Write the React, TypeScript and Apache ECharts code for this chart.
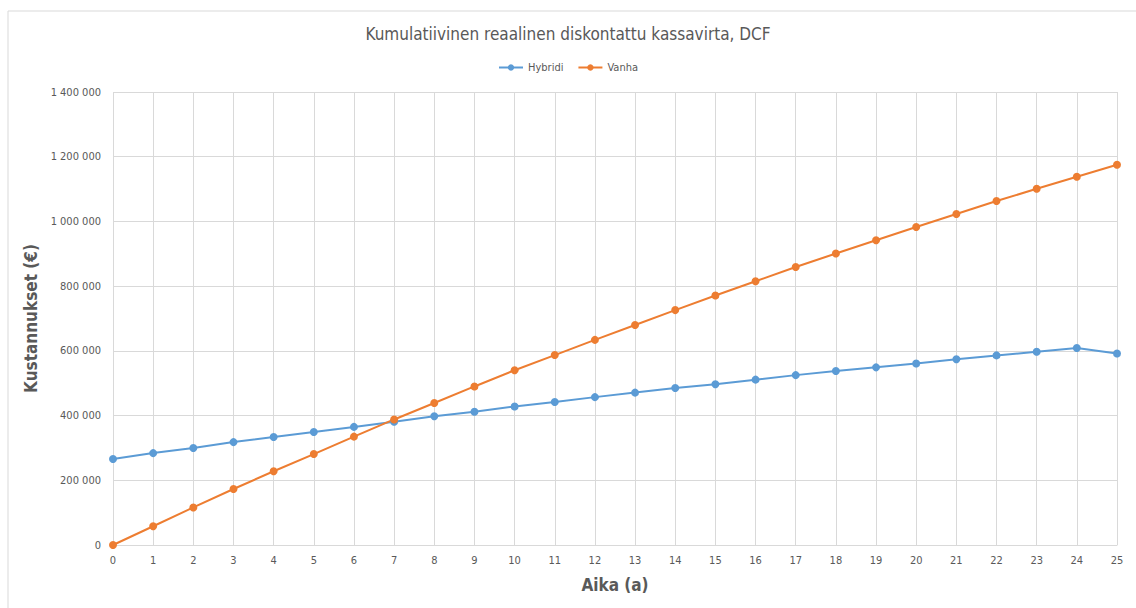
import React, { useEffect, useRef } from "react";
import * as echarts from "echarts";

const years = Array.from({ length: 26 }, (_, i) => String(i));
const hybridi = [
  266000, 284000, 300000, 318000, 334000, 349000, 365000, 381000, 398000, 412000,
  428000, 442000, 457000, 471000, 485000, 497000, 511000, 525000, 538000, 549000,
  561000, 574000, 586000, 597000, 609000, 592000,
];
const vanha = [
  0, 58000, 116000, 173000, 228000, 281000, 335000, 388000, 439000, 490000,
  540000, 587000, 634000, 680000, 726000, 771000, 815000, 859000, 901000, 942000,
  983000, 1023000, 1063000, 1101000, 1138000, 1175000,
];

const FONT = "'Liberation Sans Narrow', 'DejaVu Sans Condensed', 'Open Sans', sans-serif";
const GRAY = "#595959";

const fmt = (v: number) => String(v).replace(/\B(?=(\d{3})+(?!\d))/g, " ");

export default function App() {
  const ref = useRef<HTMLDivElement>(null);
  useEffect(() => {
    if (!ref.current) return;
    const chart = echarts.init(ref.current, undefined, { renderer: "svg" });
    chart.setOption({
      animation: false,
      backgroundColor: "#fff",
      textStyle: { fontFamily: FONT },
      graphic: [
        {
          type: "rect",
          shape: { x: 8, y: 11, width: 1140, height: 620 },
          style: { fill: "none", stroke: "#d9d9d9", lineWidth: 1 },
          silent: true,
        },
      ],
      title: {
        text: "Kumulatiivinen reaalinen diskontattu kassavirta, DCF",
        left: "center",
        top: 20,
        textStyle: { fontFamily: FONT, fontSize: 17, fontWeight: "normal", color: GRAY },
      },
      legend: {
        top: 57,
        left: "center",
        itemWidth: 24,
        itemHeight: 8,
        itemGap: 14,
        textStyle: { fontFamily: FONT, fontSize: 11, color: GRAY },
        data: ["Hybridi", "Vanha"],
      },
      grid: { left: 113, right: 19, top: 92, bottom: 63 },
      xAxis: {
        type: "category",
        data: years,
        boundaryGap: false,
        name: "Aika (a)",
        nameLocation: "middle",
        nameGap: 31,
        nameTextStyle: { fontFamily: FONT, fontSize: 17, fontWeight: "bold", color: GRAY },
        axisLine: { lineStyle: { color: "#d9d9d9", width: 1 } },
        axisTick: { show: false },
        axisLabel: { color: GRAY, fontSize: 11, margin: 10, interval: 0 },
        splitLine: { show: true, lineStyle: { color: "#d9d9d9", width: 1 } },
      },
      yAxis: {
        type: "value",
        min: 0,
        max: 1400000,
        interval: 200000,
        name: "Kustannukset (€)",
        nameLocation: "middle",
        nameGap: 65,
        nameTextStyle: { fontFamily: FONT, fontSize: 17, fontWeight: "bold", color: GRAY },
        axisLine: { show: false },
        axisTick: { show: false },
        axisLabel: { color: GRAY, fontSize: 11, margin: 12, formatter: (v: number) => fmt(v) },
        splitLine: { lineStyle: { color: "#d9d9d9", width: 1 } },
      },
      series: [
        {
          name: "Hybridi",
          type: "line",
          data: hybridi,
          symbol: "circle",
          symbolSize: 8,
          color: "#5b9bd5",
          lineStyle: { width: 2 },
        },
        {
          name: "Vanha",
          type: "line",
          data: vanha,
          symbol: "circle",
          symbolSize: 8,
          color: "#ed7d31",
          lineStyle: { width: 2 },
        },
      ],
    });
    return () => chart.dispose();
  }, []);
  return (
    <div
      ref={ref}
      style={{ position: "fixed", left: 0, top: 0, width: 1136, height: 608 }}
    />
  );
}
